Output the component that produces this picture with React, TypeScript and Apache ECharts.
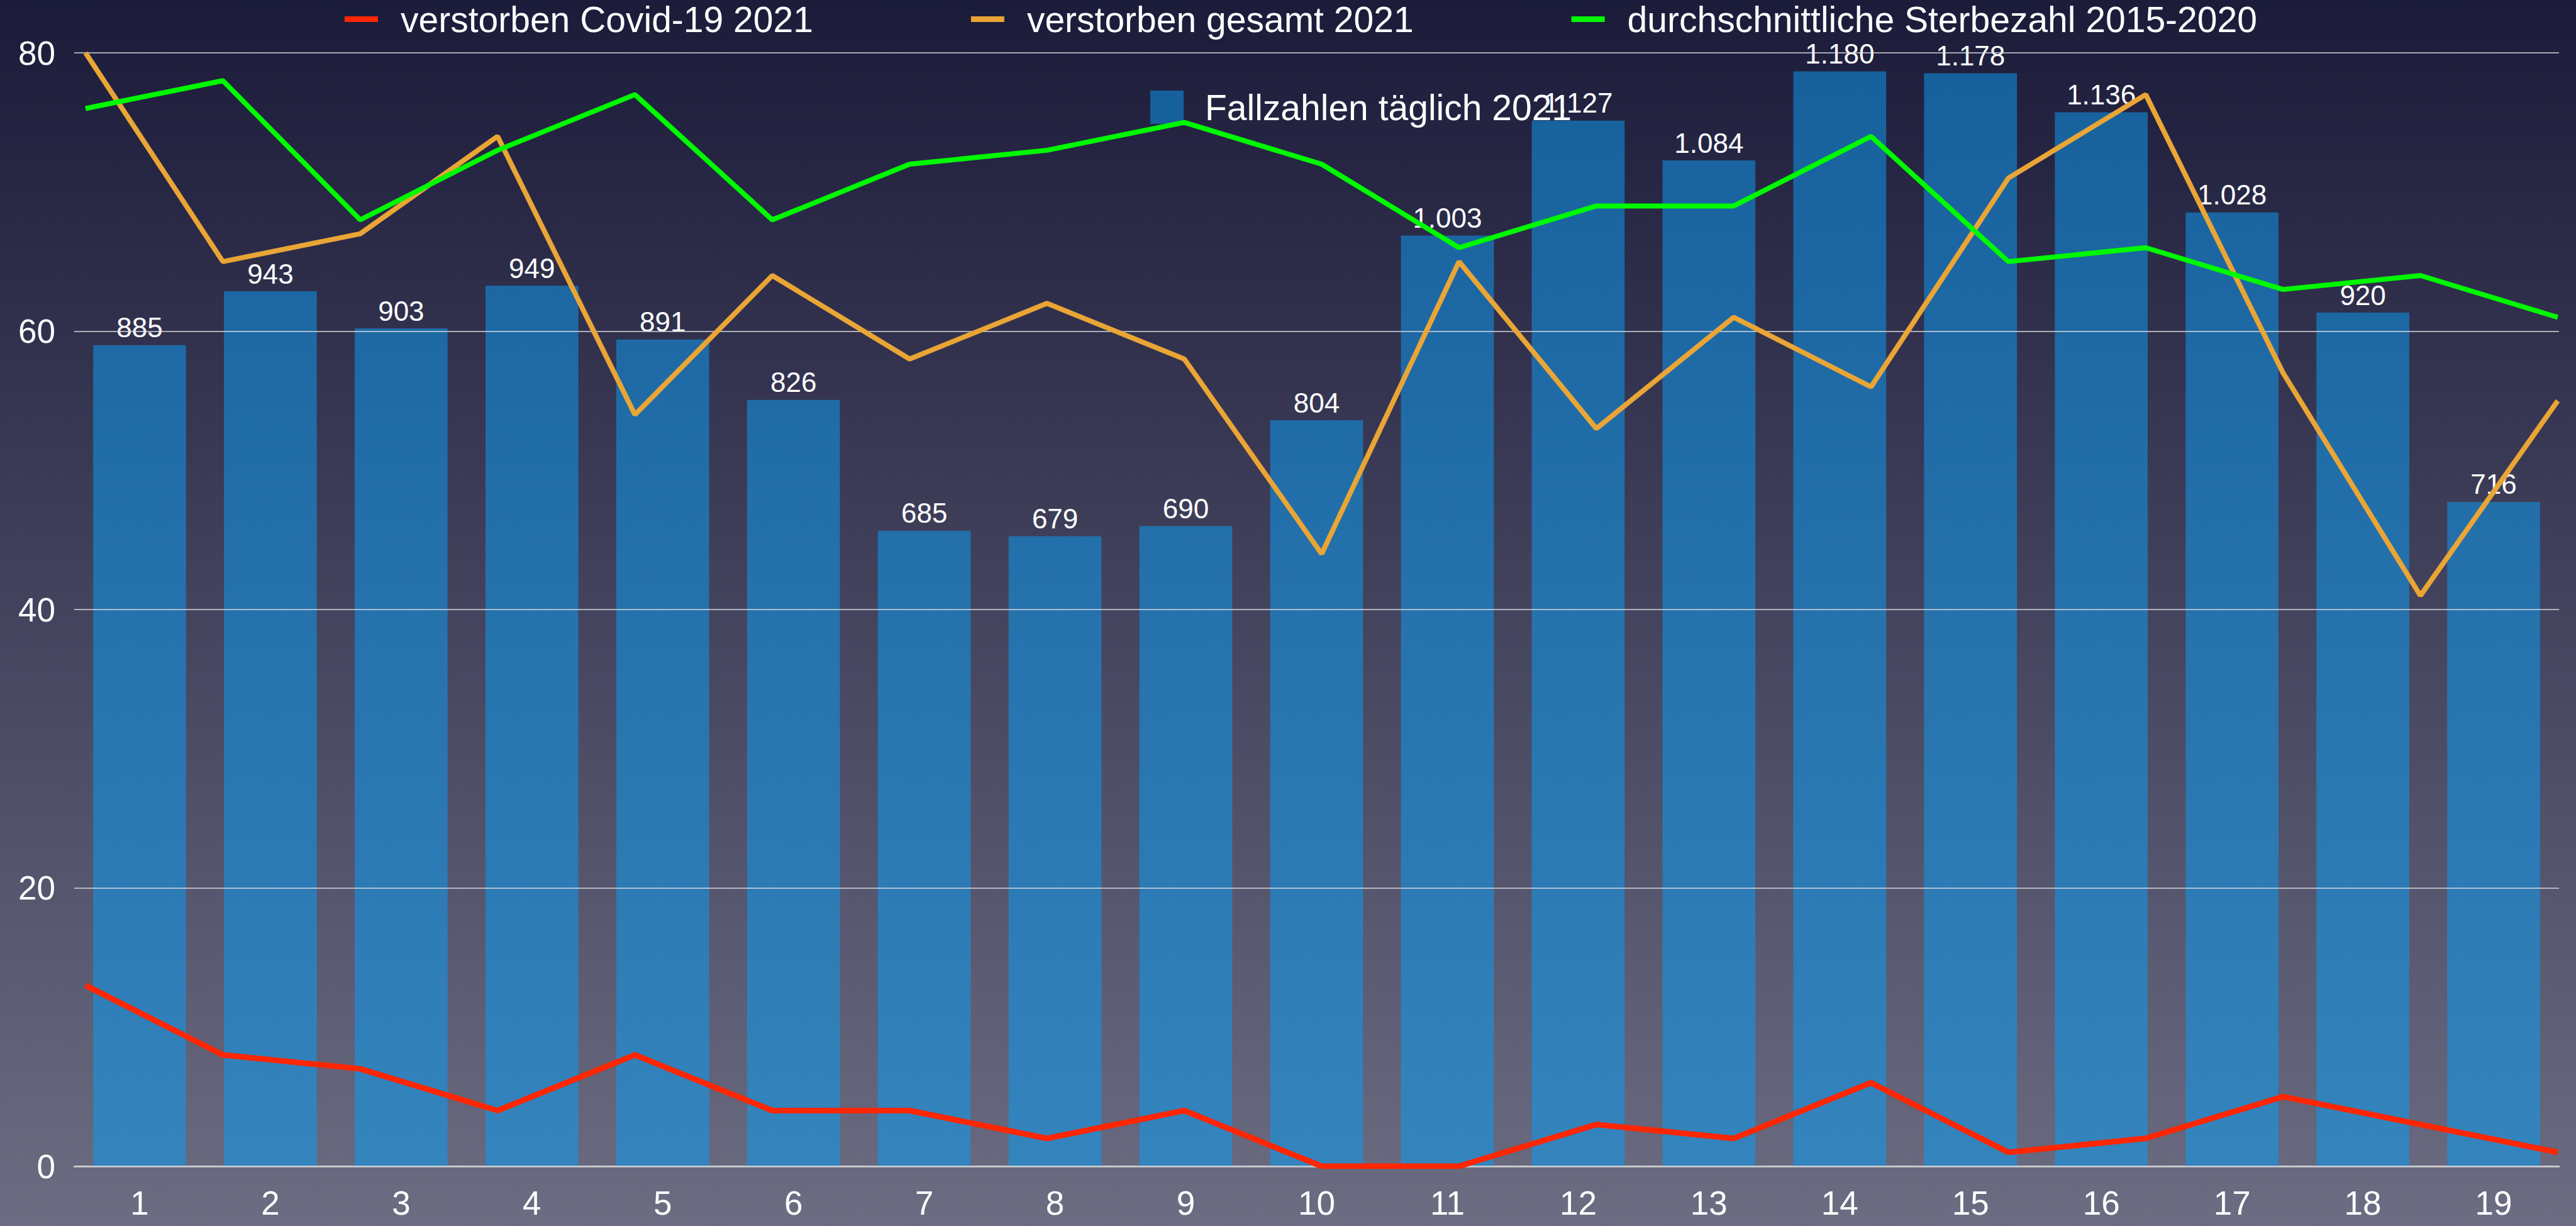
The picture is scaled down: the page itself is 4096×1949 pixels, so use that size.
import React, { useEffect, useRef } from "react";
import * as echarts from "echarts";

const days = ["1","2","3","4","5","6","7","8","9","10","11","12","13","14","15","16","17","18","19"];
const fallzahlen = [885, 943, 903, 949, 891, 826, 685, 679, 690, 804, 1003, 1127, 1084, 1180, 1178, 1136, 1028, 920, 716];
const covidTote = [13, 8, 7, 4, 8, 4, 4, 2, 4, 0, 0, 3, 2, 6, 1, 2, 5, 3, 1];
const gesamtTote = [80, 65, 67, 74, 54, 64, 58, 62, 58, 44, 65, 53, 61, 56, 71, 77, 57, 41, 55];
const durchschnitt = [76, 78, 68, 73, 77, 68, 72, 73, 75, 72, 66, 69, 69, 74, 65, 66, 63, 64, 61];
const yTicks = [0, 20, 40, 60, 80];

const FONT = "'Liberation Sans', Arial, Helvetica, sans-serif";

function deFormat(v: number): string {
  const s = String(Math.round(v));
  return s.replace(/\B(?=(\d{3})+(?!\d))/g, ".");
}

export default function App() {
  const ref = useRef<HTMLDivElement>(null);
  useEffect(() => {
    if (!ref.current) return;
    const chart = echarts.init(ref.current, undefined, { renderer: "svg" });
    const gridTop = 84;
    const gridBottom = 95;
    const H = 1949;
    chart.setOption({
      animation: false,
      backgroundColor: "transparent",
      textStyle: { fontFamily: FONT },
      legend: [
        {
          data: ["verstorben Covid-19 2021", "verstorben gesamt 2021", "durchschnittliche Sterbezahl 2015-2020"],
          left: 548,
          top: 2,
          padding: 0,
          icon: "rect",
          itemWidth: 53,
          itemHeight: 9,
          itemGap: 251,
          textStyle: { color: "#ffffff", fontSize: 57, fontFamily: FONT, padding: [0, 0, 0, 31] },
        },
        {
          data: ["Fallzahlen täglich 2021"],
          left: 1829,
          top: 142,
          padding: 0,
          icon: "rect",
          itemWidth: 53,
          itemHeight: 53,
          textStyle: { color: "#ffffff", fontSize: 57, fontFamily: FONT, padding: [0, 0, 0, 29] },
        },
      ],
      grid: [
        { left: 118, right: 27, top: gridTop, bottom: gridBottom },
        { left: 136, right: 29, top: gridTop, bottom: gridBottom },
      ],
      xAxis: [
        {
          type: "category",
          gridIndex: 0,
          data: days,
          boundaryGap: true,
          axisLine: { lineStyle: { color: "#b8b8b8", width: 3 } },
          axisTick: { show: false },
          axisLabel: { color: "#ffffff", fontSize: 53, fontFamily: FONT, margin: 32 },
        },
        {
          type: "category",
          gridIndex: 1,
          data: days,
          boundaryGap: false,
          show: false,
        },
      ],
      yAxis: [
        {
          type: "value",
          gridIndex: 0,
          min: yTicks[0],
          max: yTicks[yTicks.length - 1],
          interval: 20,
          z: 3,
          axisLine: { show: false },
          axisTick: { show: false },
          splitLine: { lineStyle: { color: "rgba(215,215,220,0.75)", width: 2 } },
          axisLabel: { color: "#ffffff", fontSize: 53, fontFamily: FONT, margin: 30 },
        },
        {
          type: "value",
          gridIndex: 0,
          min: 0,
          max: 1200,
          show: false,
          splitLine: { show: false },
        },
        {
          type: "value",
          gridIndex: 1,
          min: 0,
          max: 80,
          show: false,
          splitLine: { show: false },
        },
      ],
      series: [
        {
          name: "Fallzahlen täglich 2021",
          type: "bar",
          xAxisIndex: 0,
          yAxisIndex: 1,
          data: fallzahlen,
          barCategoryGap: "29%",
          z: 2,
          itemStyle: {
            color: new echarts.graphic.LinearGradient(0, gridTop, 0, H - gridBottom, [
              { offset: 0, color: "#16609c" },
              { offset: 1, color: "#3484be" },
            ], true),
          },
          label: {
            show: true,
            position: "top",
            distance: 6,
            color: "#ffffff",
            fontSize: 44,
            fontFamily: FONT,
            formatter: (p: any) => deFormat(p.value),
          },
        },
        {
          name: "verstorben Covid-19 2021",
          type: "line",
          xAxisIndex: 1,
          yAxisIndex: 2,
          data: covidTote,
          z: 4,
          symbol: "none",
          itemStyle: { color: "#ff2600" },
          lineStyle: { color: "#ff2600", width: 9 },
        },
        {
          name: "verstorben gesamt 2021",
          type: "line",
          xAxisIndex: 1,
          yAxisIndex: 2,
          data: gesamtTote,
          z: 4,
          symbol: "none",
          itemStyle: { color: "#e9a535" },
          lineStyle: { color: "#e9a535", width: 8 },
        },
        {
          name: "durchschnittliche Sterbezahl 2015-2020",
          type: "line",
          xAxisIndex: 1,
          yAxisIndex: 2,
          data: durchschnitt,
          z: 4,
          symbol: "none",
          itemStyle: { color: "#00f800" },
          lineStyle: { color: "#00f800", width: 8 },
        },
      ],
    });
    return () => chart.dispose();
  }, []);
  return (
    <div
      ref={ref}
      style={{
        position: "fixed",
        left: 0,
        top: 0,
        width: 4096,
        height: 1949,
        background: "linear-gradient(to bottom, #1b1b3a 0%, #6c6c82 100%)",
      }}
    />
  );
}
